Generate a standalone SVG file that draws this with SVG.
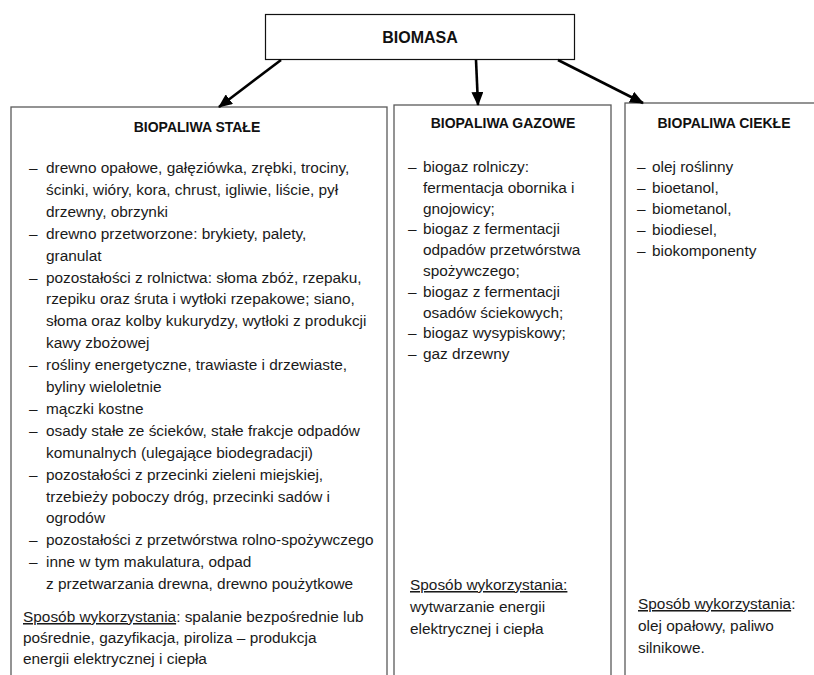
<svg xmlns="http://www.w3.org/2000/svg" width="814" height="675" viewBox="0 0 814 675">
<defs>
<style>
.box{fill:#fff;stroke:#5a5a5a;stroke-width:1.3}
.top{fill:#fff;stroke:#111;stroke-width:1.2}
.t{font-family:"Liberation Sans",Arial,sans-serif;font-size:15.4px;fill:#1a1a1a}
.h{font-family:"Liberation Sans",Arial,sans-serif;font-size:14px;font-weight:bold;fill:#111;text-anchor:middle}
.u{text-decoration:underline}
.c{fill:none;stroke:#000;stroke-width:2.6}
</style>
<marker id="ah" markerUnits="userSpaceOnUse" markerWidth="14" markerHeight="12" refX="13" refY="6" orient="auto">
<path d="M0,0 L14,6 L0,12 Z" fill="#000"/>
</marker>
</defs>
<rect width="814" height="675" fill="#fff"/>

<g id="biomasa">
<rect class="top" x="265.5" y="14.5" width="309" height="45"/>
<text class="h" x="420" y="43" style="font-size:16px">BIOMASA</text>
</g>

<g id="stale">
<rect class="box" x="11" y="107" width="376" height="590"/>
<text class="h" x="197" y="132">BIOPALIWA STAŁE</text>
<g class="t">
<text x="29" y="173">–</text><text x="46" y="173">drewno opałowe, gałęziówka, zrębki, trociny,</text>
<text x="46" y="194.9">ścinki, wióry, kora, chrust, igliwie, liście, pył</text>
<text x="46" y="216.8">drzewny, obrzynki</text>
<text x="29" y="238.7">–</text><text x="46" y="238.7">drewno przetworzone: brykiety, palety,</text>
<text x="46" y="260.6">granulat</text>
<text x="29" y="282.5">–</text><text x="46" y="282.5">pozostałości z rolnictwa: słoma zbóż, rzepaku,</text>
<text x="46" y="304.4">rzepiku oraz śruta i wytłoki rzepakowe; siano,</text>
<text x="46" y="326.3">słoma oraz kolby kukurydzy, wytłoki z produkcji</text>
<text x="46" y="348.2">kawy zbożowej</text>
<text x="29" y="370.1">–</text><text x="46" y="370.1">rośliny energetyczne, trawiaste i drzewiaste,</text>
<text x="46" y="392">byliny wieloletnie</text>
<text x="29" y="413.9">–</text><text x="46" y="413.9">mączki kostne</text>
<text x="29" y="435.8">–</text><text x="46" y="435.8">osady stałe ze ścieków, stałe frakcje odpadów</text>
<text x="46" y="457.7">komunalnych (ulegające biodegradacji)</text>
<text x="29" y="479.6">–</text><text x="46" y="479.6">pozostałości z przecinki zieleni miejskiej,</text>
<text x="46" y="501.5">trzebieży poboczy dróg, przecinki sadów i</text>
<text x="46" y="523.4">ogrodów</text>
<text x="29" y="545.3">–</text><text x="46" y="545.3">pozostałości z przetwórstwa rolno-spożywczego</text>
<text x="29" y="567.2">–</text><text x="46" y="567.2">inne w tym makulatura, odpad</text>
<text x="46" y="589.1">z przetwarzania drewna, drewno poużytkowe</text>
<text x="23" y="622"><tspan class="u">Sposób wykorzystania</tspan>: spalanie bezpośrednie lub</text>
<text x="23" y="643">pośrednie, gazyfikacja, piroliza – produkcja</text>
<text x="23" y="664">energii elektrycznej i ciepła</text>
</g>
</g>

<g id="gazowe">
<rect class="box" x="394" y="105" width="217" height="590"/>
<text class="h" x="503" y="128">BIOPALIWA GAZOWE</text>
<g class="t">
<text x="408" y="172">–</text><text x="423" y="172">biogaz rolniczy:</text>
<text x="423" y="192.8">fermentacja obornika i</text>
<text x="423" y="213.6">gnojowicy;</text>
<text x="408" y="234.4">–</text><text x="423" y="234.4">biogaz z fermentacji</text>
<text x="423" y="255.2">odpadów przetwórstwa</text>
<text x="423" y="276">spożywczego;</text>
<text x="408" y="296.8">–</text><text x="423" y="296.8">biogaz z fermentacji</text>
<text x="423" y="317.6">osadów ściekowych;</text>
<text x="408" y="338.4">–</text><text x="423" y="338.4">biogaz wysypiskowy;</text>
<text x="408" y="359.2">–</text><text x="423" y="359.2">gaz drzewny</text>
<text x="410" y="590"><tspan class="u">Sposób wykorzystania:</tspan></text>
<text x="410" y="612">wytwarzanie energii</text>
<text x="410" y="634">elektrycznej i ciepła</text>
</g>
</g>

<g id="ciekle">
<rect class="box" x="625" y="103" width="220" height="590"/>
<text class="h" x="724" y="128">BIOPALIWA CIEKŁE</text>
<g class="t">
<text x="637" y="172">–</text><text x="652" y="172">olej roślinny</text>
<text x="637" y="193">–</text><text x="652" y="193">bioetanol,</text>
<text x="637" y="214">–</text><text x="652" y="214">biometanol,</text>
<text x="637" y="235">–</text><text x="652" y="235">biodiesel,</text>
<text x="637" y="256">–</text><text x="652" y="256">biokomponenty</text>
<text x="638" y="609"><tspan class="u">Sposób wykorzystania</tspan>:</text>
<text x="638" y="631">olej opałowy, paliwo</text>
<text x="638" y="653">silnikowe.</text>
</g>
</g>

<g id="connectors">
<line class="c" x1="281" y1="60" x2="219" y2="107" marker-end="url(#ah)"/>
<line class="c" x1="476" y1="60" x2="478" y2="105" marker-end="url(#ah)"/>
<line class="c" x1="558" y1="60" x2="643" y2="103" marker-end="url(#ah)"/>
</g>
</svg>
